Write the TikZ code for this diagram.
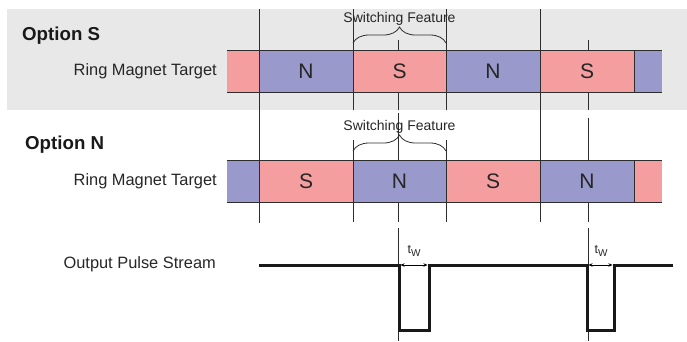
\documentclass[tikz,border=0pt]{standalone}
\usepackage{fontspec}
\setmainfont{Liberation Sans}
\usetikzlibrary{decorations.pathreplacing,arrows.meta}

\definecolor{polrot}{RGB}{245,158,160}
\definecolor{polblau}{RGB}{153,153,204}
\definecolor{hgrau}{RGB}{232,232,232}
\definecolor{linie}{RGB}{45,45,45}

\tikzset{
  pol/.style={font=\fontsize{21}{21}\selectfont, text=black!85},
  beschr/.style={font=\fontsize{16.4}{17}\selectfont, anchor=base east, inner sep=0pt, text=black!85},
  option/.style={font=\bfseries\fontsize{18.7}{19}\selectfont, anchor=base west, inner sep=0pt, text=black!90},
  merkmal/.style={font=\fontsize{14}{14}\selectfont, anchor=base, inner sep=0pt, text=black!85},
  klammer/.style={decorate, decoration={brace, amplitude=16pt}, line width=0.8pt, linie},
  strich/.style={line width=0.8pt, linie},
  puls/.style={line width=3pt, black!90},
  breite/.style={{Stealth[length=4pt,width=3.5pt]}-{Stealth[length=4pt,width=3.5pt]}, line width=0.7pt}
}

\begin{document}
\begin{tikzpicture}[x=1pt,y=-1pt]
\useasboundingbox (0,0) rectangle (687,341);
\fill[hgrau] (7,9) rectangle (687,110);

%Magnetringe
\foreach \xa/\xb/\fa/\fb in {227/259/polrot/polblau, 259/353/polblau/polrot,
  353/446/polrot/polblau, 446/540/polblau/polrot, 540/634/polrot/polblau,
  634/662/polblau/polrot}{
  \fill[\fa] (\xa,50) rectangle (\xb,92);
  \fill[\fb] (\xa,160) rectangle (\xb,202);
}
\draw[strich] (227,50) -- (662,50) (227,92) -- (662,92);
\draw[strich] (227,160) -- (662,160) (227,202) -- (662,202);
\draw[strich] (634,50) -- (634,92) (634,160) -- (634,202);

\foreach \xm/\ta/\tb [count=\i] in {306/N/S, 399.5/S/N, 493/N/S, 587/S/N}{
  \node[pol] (oben\i) at (\xm,71) {\ta};
  \node[pol] (unten\i) at (\xm,181) {\tb};
}

%senkrechte Linien
\draw[strich] (259,9) -- (259,223) (540,9) -- (540,222);
\draw[strich] (353,9) -- (353,110) (353,140) -- (353,222);
\draw[strich] (446,9) -- (446,110) (446,140) -- (446,222);
\draw[strich] (398,40) -- (398,50) (398,92) -- (398,110) (398,113) -- (398,160)
  (398,202) -- (398,222) (398,228) -- (398,341);
\draw[strich] (588,40) -- (588,50) (588,92) -- (588,110) (588,118) -- (588,160)
  (588,202) -- (588,222) (588,228) -- (588,341);

%Klammern
\coordinate (KA) at (353,43);
\coordinate (KB) at (446,43);
\coordinate (KC) at (353,151);
\coordinate (KD) at (446,151);
\draw[klammer] (KA) -- (KB);
\draw[klammer] (KC) -- (KD);
\node[merkmal] (sf1) at (399.5,22) {Switching Feature};
\node[merkmal] (sf2) at (399.5,130) {Switching Feature};

%Beschriftung
\node[option] (optS) at (22,40) {Option S};
\node[option] (optN) at (25,149) {Option N};
\node[beschr] (rmt1) at (217,75) {Ring Magnet Target};
\node[beschr] (rmt2) at (217,185) {Ring Magnet Target};
\node[beschr] (ops) at (216,268) {Output Pulse Stream};

%Pulse
\coordinate (P0) at (259,265);
\coordinate (P1) at (399,265);
\coordinate (P2) at (429,265);
\coordinate (P3) at (587,265);
\coordinate (P4) at (614,265);
\coordinate (P5) at (673,265);
\draw[puls] (P0) -- (P1) -- ++(0,65) -| (P2) -- (P3) -- ++(0,65) -| (P4) -- (P5);
\draw[breite] ([xshift=1.5pt]P1) -- ([xshift=-1.5pt]P2);
\draw[breite] ([xshift=1.5pt]P3) -- ([xshift=-1.5pt]P4);
\node[text=black!85, font=\fontsize{12.5}{12.5}\selectfont] (tw1) at (414,251)
  {t\raisebox{-0.4ex}{\fontsize{10}{10}\selectfont W}};
\node[text=black!85, font=\fontsize{12.5}{12.5}\selectfont] (tw2) at (601,251)
  {t\raisebox{-0.4ex}{\fontsize{10}{10}\selectfont W}};
\end{tikzpicture}
\end{document}
